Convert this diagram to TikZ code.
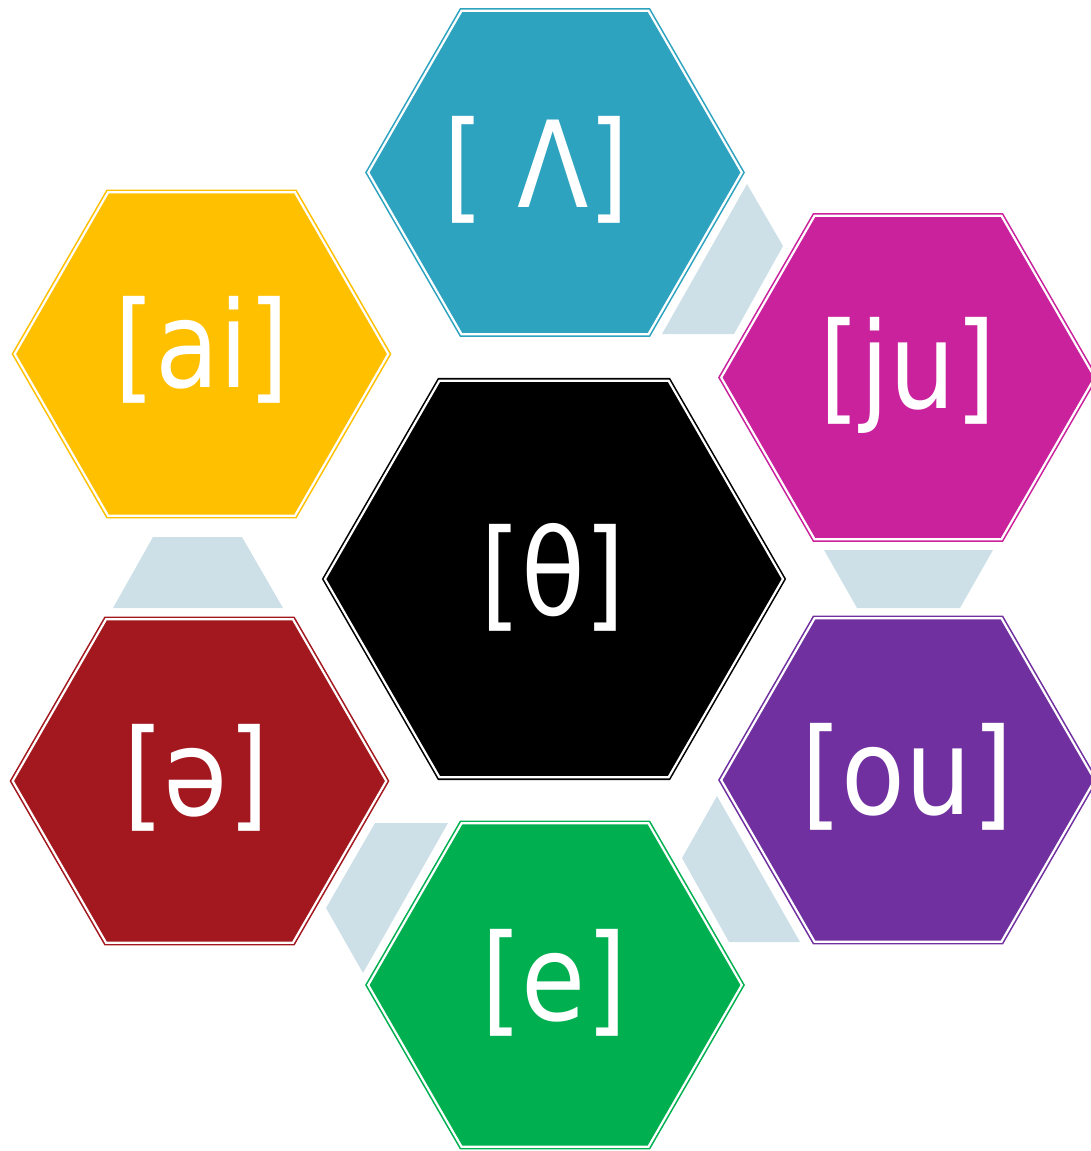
\documentclass[tikz,border=0pt]{standalone}
\usepackage{fontspec}
\newfontfamily\labfont[FakeStretch=0.87]{DejaVu Sans}
\usetikzlibrary{shapes.geometric}
\definecolor{hcyan}{HTML}{2EA3C0}
\definecolor{hyellow}{HTML}{FFC000}
\definecolor{hmagenta}{HTML}{CA219C}
\definecolor{hpurple}{HTML}{7030A0}
\definecolor{hred}{HTML}{A3181F}
\definecolor{hgreen}{HTML}{00B050}
\definecolor{connblue}{HTML}{CDE0E8}
\begin{document}
\begin{tikzpicture}[x=1pt,y=-1pt,
  hexbox/.style 2 args={regular polygon, regular polygon sides=6, minimum size=#1,
     inner sep=0pt, outer sep=0pt, line width=1.6pt, double=white,
     double distance=2.2pt, draw=#2, fill=#2},
  smallhex/.style={hexbox={373.6pt}{#1}},
  bighex/.style={hexbox={458pt}{#1}},
  lab/.style={text=white, inner sep=0pt, font=\labfont\fontsize{120}{120}\selectfont},
  conn/.style={fill=connblue}]
\useasboundingbox (0,0) rectangle (1090,1151);
% connectors
\fill[conn] (747,184) -- (783,246) -- (734,334) -- (662,334) -- cycle;
\fill[conn] (824,550) -- (993,550) -- (960,608) -- (857,608) -- cycle;
\fill[conn] (717,796) -- (800,942) -- (729,942) -- (682,858) -- cycle;
\fill[conn] (375,823) -- (448,823) -- (363,973) -- (326,908) -- cycle;
\fill[conn] (153,537) -- (242,537) -- (283,608) -- (113,608) -- cycle;
% hexagons
\node[bighex=black] (hc) at (554,579) {};
\node[smallhex=hcyan] (ht) at (555,172.5) {};
\node[smallhex=hyellow] (hy) at (201.5,354) {};
\node[smallhex=hmagenta] (hm) at (908,377.5) {};
\node[smallhex=hpurple] (hp) at (908,780) {};
\node[smallhex=hred] (hr) at (199.5,781) {};
\node[smallhex=hgreen] (hg) at (555,985) {};
% labels
\node[lab] (lc) at (553,577) {[θ]};
\node[lab] (lt) at (536.5,170) {[ Λ]};
\node[lab] (ly) at (202,350) {[ai]};
\node[lab] (lm) at (908,375) {[ju]};
\node[lab] (lp) at (907,777) {[ou]};
\node[lab] (lr) at (196,778) {[ə]};
\node[lab] (lg) at (554,983) {[e]};
\end{tikzpicture}
\end{document}
